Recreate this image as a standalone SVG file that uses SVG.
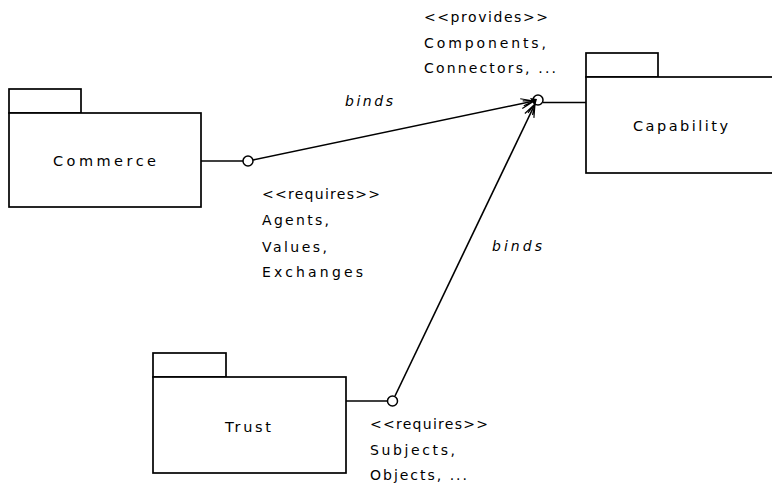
<svg xmlns="http://www.w3.org/2000/svg" width="772" height="483" viewBox="0 0 772 483">
<style>
.pkg{fill:#fff;stroke:#000;stroke-width:1.7}
.lbl{font-family:"DejaVu Sans","Liberation Sans",sans-serif;font-size:14.5px;fill:#000}
.note{font-family:"DejaVu Sans","Liberation Sans",sans-serif;font-size:14px;fill:#000}
.it{font-style:italic}
.ln{fill:none;stroke:#000;stroke-width:1.6}
.port{fill:#fff;stroke:#000;stroke-width:1.5}
</style>
<defs>
<marker id="open" markerWidth="16" markerHeight="12" refX="14" refY="6" orient="auto" markerUnits="userSpaceOnUse">
<path d="M1,1 L14,6 L1,11 M3,3.5 L14,6 L3,8.5" fill="none" stroke="#000" stroke-width="1.2"/>
</marker>
</defs>
<rect width="772" height="483" fill="#fff"/>
<g id="commerce">
<rect class="pkg" x="9" y="89" width="72" height="24"/>
<rect class="pkg" x="9" y="113" width="192" height="94"/>
<text class="lbl" x="53" y="166" textLength="103" lengthAdjust="spacing">Commerce</text>
</g>
<g id="capability">
<rect class="pkg" x="586" y="53" width="72" height="24"/>
<rect class="pkg" x="586" y="77" width="200" height="96"/>
<text class="lbl" x="633" y="131" textLength="95" lengthAdjust="spacing">Capability</text>
</g>
<g id="trust">
<rect class="pkg" x="153" y="353" width="73" height="24"/>
<rect class="pkg" x="153" y="377" width="193" height="96"/>
<text class="lbl" x="225" y="432" textLength="46" lengthAdjust="spacing">Trust</text>
</g>
<g id="connectors">
<line class="ln" x1="201" y1="161" x2="243" y2="161"/>
<line class="ln" x1="543" y1="102.5" x2="586" y2="102.5"/>
<line class="ln" x1="346" y1="401" x2="387" y2="401"/>
<line class="ln" x1="253" y1="160" x2="534" y2="101" marker-end="url(#open)"/>
<line class="ln" x1="395" y1="396" x2="535" y2="104" marker-end="url(#open)"/>
<circle class="port" cx="248" cy="161" r="5"/>
<circle class="port" cx="538" cy="100" r="5"/>
<circle class="port" cx="392.5" cy="401" r="5"/>
<path d="M530,98 L537,99 L535,106 Z" fill="#000"/>
<text class="note it" x="345" y="106" textLength="48" lengthAdjust="spacing">binds</text>
<text class="note it" x="492" y="251" textLength="50" lengthAdjust="spacing">binds</text>
</g>
<g id="labels">
<text class="note" x="424" y="22" textLength="124" lengthAdjust="spacing">&lt;&lt;provides&gt;&gt;</text>
<text class="note" x="424" y="48" textLength="122" lengthAdjust="spacing">Components,</text>
<text class="note" x="424" y="73" textLength="132" lengthAdjust="spacing">Connectors, ...</text>
<text class="note" x="262" y="199" textLength="118" lengthAdjust="spacing">&lt;&lt;requires&gt;&gt;</text>
<text class="note" x="262" y="225" textLength="67" lengthAdjust="spacing">Agents,</text>
<text class="note" x="262" y="252" textLength="65" lengthAdjust="spacing">Values,</text>
<text class="note" x="262" y="277" textLength="101" lengthAdjust="spacing">Exchanges</text>
<text class="note" x="370" y="429" textLength="118" lengthAdjust="spacing">&lt;&lt;requires&gt;&gt;</text>
<text class="note" x="370" y="455" textLength="85" lengthAdjust="spacing">Subjects,</text>
<text class="note" x="370" y="480" textLength="97" lengthAdjust="spacing">Objects, ...</text>
</g>
</svg>
